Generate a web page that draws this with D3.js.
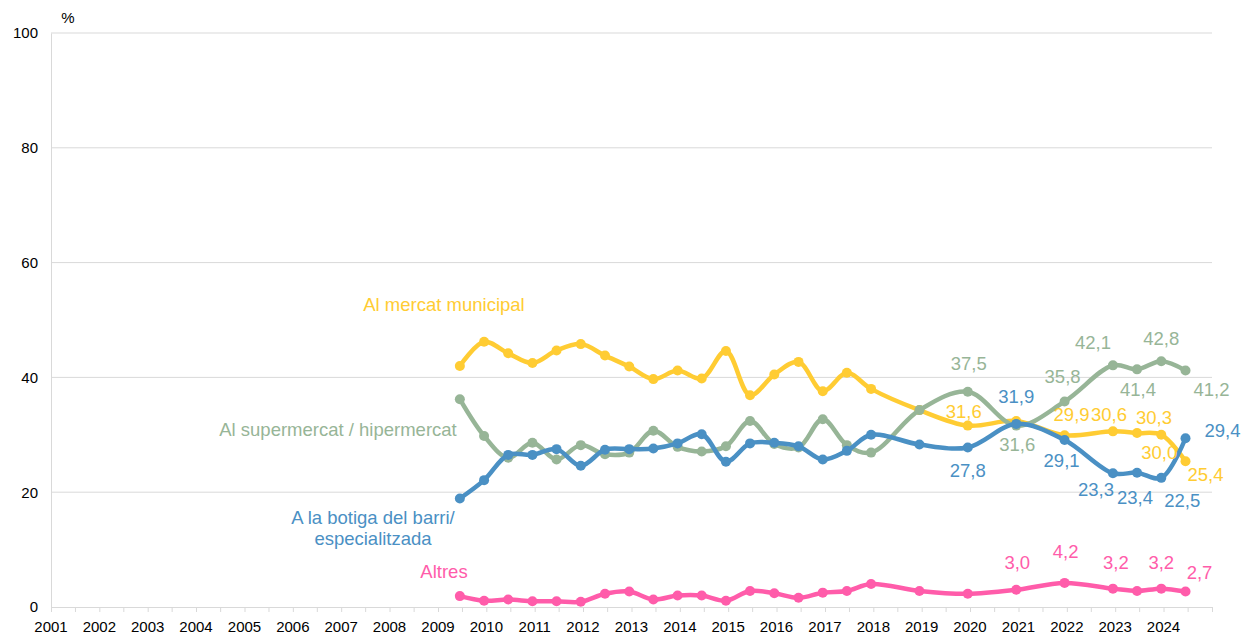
<!DOCTYPE html>
<html>
<head>
<meta charset="utf-8">
<script src="https://cdn.jsdelivr.net/npm/d3@7"></script>
<style>
  html, body { margin: 0; padding: 0; background: #fff; }
  svg { display: block; font-family: "Liberation Sans", Arial, sans-serif; }
</style>
</head>
<body>
<svg id="chart" width="1243" height="633"></svg>
<script>
// ---- Data ----
const periods = [
  "2009-06-15","2009-12-15","2010-06-15","2010-12-15","2011-06-15","2011-12-15",
  "2012-06-15","2012-12-15","2013-06-15","2013-12-15","2014-06-15","2014-12-15",
  "2015-06-15","2015-12-15","2016-06-15","2016-12-15","2017-06-15","2017-12-15",
  "2018-12-15","2019-12-15","2020-12-15","2021-12-15","2022-12-15",
  "2023-06-15","2023-12-15","2024-06-15"
];
const seriesNames = [
  "Al mercat municipal",
  "Al supermercat / hipermercat",
  "A la botiga del barri/\nespecialitzada",
  "Altres"
];
const mercat = [42.0,46.2,44.2,42.5,44.7,45.8,43.8,41.9,39.7,41.2,39.8,44.6,36.9,40.5,42.7,37.6,40.8,38.0,34.3,31.6,32.4,29.9,30.6,30.3,30.0,25.4];
const supermercat = [36.2,29.8,26.0,28.6,25.7,28.2,26.6,26.9,30.7,27.9,27.1,28.0,32.4,28.4,27.8,32.7,28.2,26.9,34.3,37.5,31.6,35.8,42.1,41.4,42.8,41.2];
const botiga = [18.9,22.1,26.5,26.5,27.5,24.6,27.4,27.5,27.6,28.5,30.1,25.3,28.5,28.6,28.0,25.7,27.2,30.0,28.3,27.8,31.9,29.1,23.3,23.4,22.5,29.4];
const altres = [1.9,1.1,1.3,1.0,1.0,0.9,2.3,2.7,1.3,2.0,2.0,1.1,2.8,2.4,1.6,2.5,2.8,4.0,2.8,2.3,3.0,4.2,3.2,2.8,3.2,2.7];
const yTicks = [0,20,40,60,80,100];
const yearLabels = d3.range(2001, 2025);
// indices of points that carry a value label
const labelledMercat = [19,21,22,23,24,25];
const labelledSuper = [19,20,21,22,23,24,25];
const labelledBotiga = [19,20,21,22,23,24,25];
const labelledAltres = [20,21,22,24,25];

// ---- Styling / placement (not data) ----
const colors = ["#FFCC33", "#97B597", "#4A90C4", "#FF5CAA"];
const labelOffsets = [
  {19:[-4,-14],21:[7,-21],22:[-4,-17],23:[17,-16],24:[-2,18],25:[20,13]},
  {19:[1,-28],20:[1,19],21:[-2,-25],22:[-20,-23],23:[1,20],24:[0,-23],25:[26,19]},
  {19:[0,23],20:[0,-27],21:[-3,21],22:[-17,16],23:[-2,25],24:[21,23],25:[37,-8]},
  {20:[1,-27],21:[1,-31],22:[3,-26],24:[0,-26],25:[14,-19]}
];
// series name placement (pixel centres of first line)
const namePos = [[444,304],[338,429],[373,517],[444,571]];

const W = 1243, H = 633;
const margin = {left: 51, right: 31, top: 33, bottom: 26};
const svg = d3.select("#chart");

const parse = d3.timeParse("%Y-%m-%d");
const dates = periods.map(parse);

const x = d3.scaleTime()
  .domain([new Date(2001,0,1), new Date(2025,0,1)])
  .range([margin.left, W - margin.right]);
const y = d3.scaleLinear()
  .domain([0, 100])
  .range([H - margin.bottom, margin.top]);

// gridlines
svg.append("g").selectAll("line").data(yTicks.filter(d => d > 0)).join("line")
  .attr("x1", margin.left).attr("x2", W - margin.right)
  .attr("y1", d => y(d)).attr("y2", d => y(d))
  .attr("stroke", "#d9d9d9").attr("stroke-width", 1);

// y axis
const yAxis = svg.append("g")
  .attr("transform", `translate(${margin.left},0)`)
  .call(d3.axisLeft(y).tickValues(yTicks).tickSize(0).tickPadding(13));
yAxis.select(".domain").attr("stroke", "#d9d9d9");
yAxis.selectAll("text").attr("font-size", 15).attr("fill", "#000")
  .attr("font-family", "Liberation Sans, Arial, sans-serif");

svg.append("text").attr("x", 68).attr("y", 17)
  .attr("text-anchor", "middle").attr("dominant-baseline", "central")
  .attr("font-size", 15).attr("fill", "#000").text("%");

// x axis: half-year ticks
const halfYears = d3.timeMonth.every(6).range(new Date(2001,0,1), new Date(2025,0,2));
const xAxis = svg.append("g")
  .attr("transform", `translate(0,${y(0)})`)
  .call(d3.axisBottom(x).tickValues(halfYears).tickSize(5).tickFormat(""));
xAxis.select(".domain").attr("stroke", "#d9d9d9");
xAxis.selectAll(".tick line").attr("stroke", "#d9d9d9");

svg.append("g").selectAll("text").data(yearLabels).join("text")
  .attr("x", d => x(new Date(d,0,1)))
  .attr("y", 626)
  .attr("text-anchor", "middle").attr("dominant-baseline", "central")
  .attr("font-size", 15).attr("fill", "#000")
  .text(d => d);

// series
const allSeries = [mercat, supermercat, botiga, altres];
const labelledIdx = [labelledMercat, labelledSuper, labelledBotiga, labelledAltres];
const line = d3.line()
  .x((d, i) => x(dates[i]))
  .y(d => y(d))
  .curve(d3.curveCatmullRom.alpha(0.5));

const fmt = v => d3.format(".1f")(v).replace(".", ",");

allSeries.forEach((vals, s) => {
  const g = svg.append("g");
  g.append("path").datum(vals)
    .attr("d", line)
    .attr("fill", "none")
    .attr("stroke", colors[s])
    .attr("stroke-width", 4.5)
    .attr("stroke-linejoin", "round")
    .attr("stroke-linecap", "round");
  g.selectAll("circle").data(vals).join("circle")
    .attr("cx", (d, i) => x(dates[i]))
    .attr("cy", d => y(d))
    .attr("r", 5)
    .attr("fill", colors[s]);
});

// value labels
allSeries.forEach((vals, s) => {
  svg.append("g").selectAll("text").data(labelledIdx[s]).join("text")
    .attr("x", i => x(dates[i]) + labelOffsets[s][i][0])
    .attr("y", i => y(vals[i]) + labelOffsets[s][i][1])
    .attr("text-anchor", "middle").attr("dominant-baseline", "central")
    .attr("font-size", 18.5).attr("fill", colors[s])
    .text(i => fmt(vals[i]));
});

// series names
seriesNames.forEach((name, s) => {
  const lines = name.split("\n");
  const t = svg.append("text")
    .attr("text-anchor", "middle")
    .attr("font-size", 18.5).attr("fill", colors[s]);
  lines.forEach((ln, k) => {
    t.append("tspan")
      .attr("x", namePos[s][0])
      .attr("y", namePos[s][1] + k * 21)
      .attr("dominant-baseline", "central")
      .text(ln);
  });
});
</script>
</body>
</html>
